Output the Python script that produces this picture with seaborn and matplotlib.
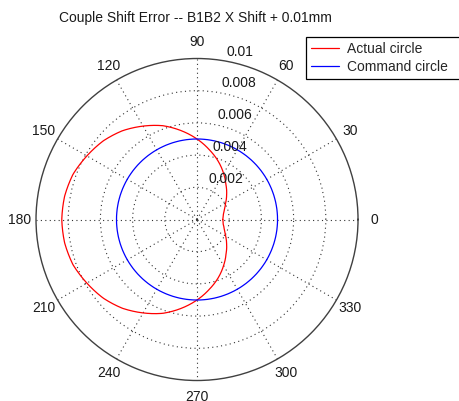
import numpy as np
import pandas as pd
import seaborn as sns
import matplotlib
matplotlib.use("Agg")
import matplotlib.pyplot as plt

# angles in degrees, radius in mm
angles = [0, 10, 20, 30, 40, 50, 60, 70, 80, 90, 100, 110, 120, 130, 140, 150, 160, 170, 180,
          190, 200, 210, 220, 230, 240, 250, 260, 270, 280, 290, 300, 310, 320, 330, 340, 350, 360]
actual_r = [0.0016, 0.00165, 0.0018, 0.00205, 0.0024, 0.0028, 0.0033, 0.00385, 0.0044, 0.005,
            0.0056, 0.0062, 0.0067, 0.0072, 0.0076, 0.0079, 0.0082, 0.00835, 0.0084,
            0.00835, 0.0082, 0.0079, 0.0076, 0.0072, 0.0067, 0.0062, 0.0056, 0.005,
            0.0044, 0.00385, 0.0033, 0.0028, 0.0024, 0.00205, 0.0018, 0.00165, 0.0016]
command_r = [0.005] * len(angles)

theta_ticks = [0, 30, 60, 90, 120, 150, 180, 210, 240, 270, 300, 330]
r_ticks = [0.002, 0.004, 0.006, 0.008, 0.01]
r_labels = ["0.002", "0.004", "0.006", "0.008", "0.01"]

df = pd.DataFrame({
    "theta": np.deg2rad(angles * 2),
    "r": actual_r + command_r,
    "series": ["Actual circle"] * len(angles) + ["Command circle"] * len(angles),
})

sns.set_theme(style="white")
plt.rcParams["font.family"] = ["Liberation Sans", "DejaVu Sans"]
fs = 10

fig = plt.figure(figsize=(4.6, 4.01), dpi=100)
ax = fig.add_axes([0.0783, 0.0511, 0.70, 0.803], projection="polar")

sns.lineplot(data=df, x="theta", y="r", hue="series", sort=False,
             palette={"Actual circle": "red", "Command circle": "blue"},
             linewidth=0.9, ax=ax, legend=False)

# draw the segments as curves in polar space
for line in ax.lines:
    line.recache()
    line._path._interpolation_steps = 30

ax.set_xlabel("")
ax.set_ylabel("")
ax.set_ylim(0, 0.01)
ax.set_thetagrids(theta_ticks, labels=[""] * len(theta_ticks))
ax.set_rgrids(r_ticks[:-1], labels=[""] * 4)
ax.grid(True, color="0.2", linestyle=(0, (1, 3)), linewidth=0.8)
ax.spines["polar"].set_color("0.25")
ax.spines["polar"].set_linewidth(1.0)
ax.tick_params(length=0)

for a in theta_ticks:
    ax.text(np.deg2rad(a), 0.011, str(a), ha="center", va="center",
            fontsize=fs, color="0.1", clip_on=False)

for r, lab in zip(r_ticks, r_labels):
    ax.annotate(lab, xy=(np.deg2rad(82), r), xytext=(7, 4.5),
                textcoords="offset pixels", ha="left", va="baseline",
                fontsize=fs, color="0.1", annotation_clip=False)

fig.text(195 / 460, 1 - 18 / 401, "Couple Shift Error -- B1B2 X Shift + 0.01mm",
         ha="center", va="center", fontsize=fs, color="0.1")

handles = [plt.Line2D([], [], color="red", lw=0.9),
           plt.Line2D([], [], color="blue", lw=0.9)]
# the legend box runs past the right edge of the picture, as in the reference
leg = fig.legend(handles, ["Actual circle", "Command circle"],
                 loc="upper left", mode="expand",
                 bbox_to_anchor=(306 / 460, 1 - 79 / 401, 162 / 460, 42 / 401),
                 borderaxespad=0, fancybox=False, framealpha=1, edgecolor="black",
                 fontsize=fs, handlelength=2.0, handletextpad=0.6,
                 labelspacing=0.3, borderpad=0.35)
leg.get_frame().set_linewidth(0.9)

fig.savefig("out.png", dpi=100, facecolor="white")
